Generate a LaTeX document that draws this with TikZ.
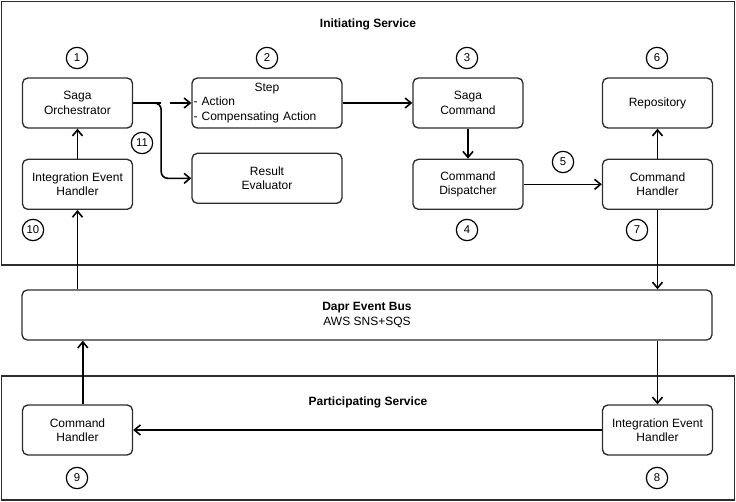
\documentclass[tikz,border=0pt]{standalone}
\usepackage{fontspec}
\setmainfont{Liberation Sans}
\usepackage{tikz}
\usetikzlibrary{arrows.meta,positioning,calc}
\usepackage{xcolor}
\definecolor{sgline}{RGB}{45,45,45}
\tikzstyle{block} = [rectangle, rounded corners=4pt, draw=sgline, line width=1pt, minimum width=82.5pt, minimum height=37.5pt, align=center, font=\fontsize{9}{10.8}\selectfont]
\tikzstyle{wide} = [block, minimum width=112.5pt]
\tikzstyle{num} = [circle, draw=black, line width=0.9pt, minimum size=16pt, inner sep=0pt, font=\fontsize{8.5}{10}\selectfont]
\tikzstyle{frame} = [draw=sgline, line width=1pt]
\tikzstyle{title} = [font=\bfseries\fontsize{9}{10.8}\selectfont]
\tikzstyle{arrow} = [line width=1.2pt, -{Straight Barb[length=4.5pt,width=7.5pt]}]

\begin{document}
\begin{tikzpicture}[x=0.75pt, y=-0.75pt, node distance=22.5pt]
\useasboundingbox (0,0) rectangle (736,502);
% service frames
\draw[frame] (1.5,1.5) rectangle (734.5,265);
\draw[frame] (1.5,376) rectangle (734.5,500);
\node[title] (initt) at (368,24) {Initiating Service};
\node[title] (partt) at (368,402) {Participating Service};
% initiating service
\node[block] (orch) at (77.5,103) {Saga\\Orchestrator};
\node[block, below=of orch] (ieh1) {Integration Event\\Handler};
\node[wide, text width=110pt, inner xsep=1pt, align=left] (step) at (267,103) {\makebox[\linewidth]{Step}\\- Action\\- Compensating Action};
\node[wide, below=18pt of step] (result) {Result\\Evaluator};
\node[block] (sagacmd) at (468,103) {Saga\\Command};
\node[block, below=of sagacmd] (dispatch) {Command\\Dispatcher};
\node[block] (repo) at (657.5,103) {Repository};
\node[block, below=of repo] (cmdh1) {Command\\Handler};
% event bus
\node[block, minimum width=517.5pt] (bus) at (367,315) {\textbf{Dapr Event Bus}\\AWS SNS+SQS};
% participating service
\node[block] (cmdh2) at (77.5,430) {Command\\Handler};
\node[block] (ieh2) at (657.5,430) {Integration Event\\Handler};
% step numbers
\node[num] (n1) at (77,58) {1};
\node[num] (n2) at (267,58) {2};
\node[num] (n3) at (467,58) {3};
\node[num] (n4) at (467,230) {4};
\node[num] (n5) at (563,162) {5};
\node[num] (n6) at (657,58) {6};
\node[num] (n7) at (637,230) {7};
\node[num] (n8) at (657,478) {8};
\node[num] (n9) at (77,478) {9};
\node[num] (n10) at (33,230) {10};
\node[num] (n11) at (142,143) {11};
% connectors
\draw[arrow] (orch) -- (step) node[pos=0.56, fill=white, inner sep=0pt, minimum width=7pt, minimum height=4pt] (gap) {};
\draw[arrow, rounded corners=5pt] (orch.east) -- ++(28,0) |- (result);
\draw[arrow] (ieh1) -- (orch);
\draw[arrow] (ieh1 |- bus.north) -- (ieh1);
\draw[arrow] (step) -- (sagacmd);
\draw[arrow] (sagacmd) -- (dispatch);
\draw[arrow] (dispatch) -- (cmdh1);
\draw[arrow] (cmdh1) -- (repo);
\draw[arrow] (cmdh1) -- (cmdh1 |- bus.north);
\draw[arrow] (ieh2 |- bus.south) -- (ieh2);
\draw[arrow] (ieh2) -- (cmdh2);
\draw[arrow] ([xshift=4pt]cmdh2.north) -- ([xshift=4pt]cmdh2.north |- bus.south);
\end{tikzpicture}
\end{document}
